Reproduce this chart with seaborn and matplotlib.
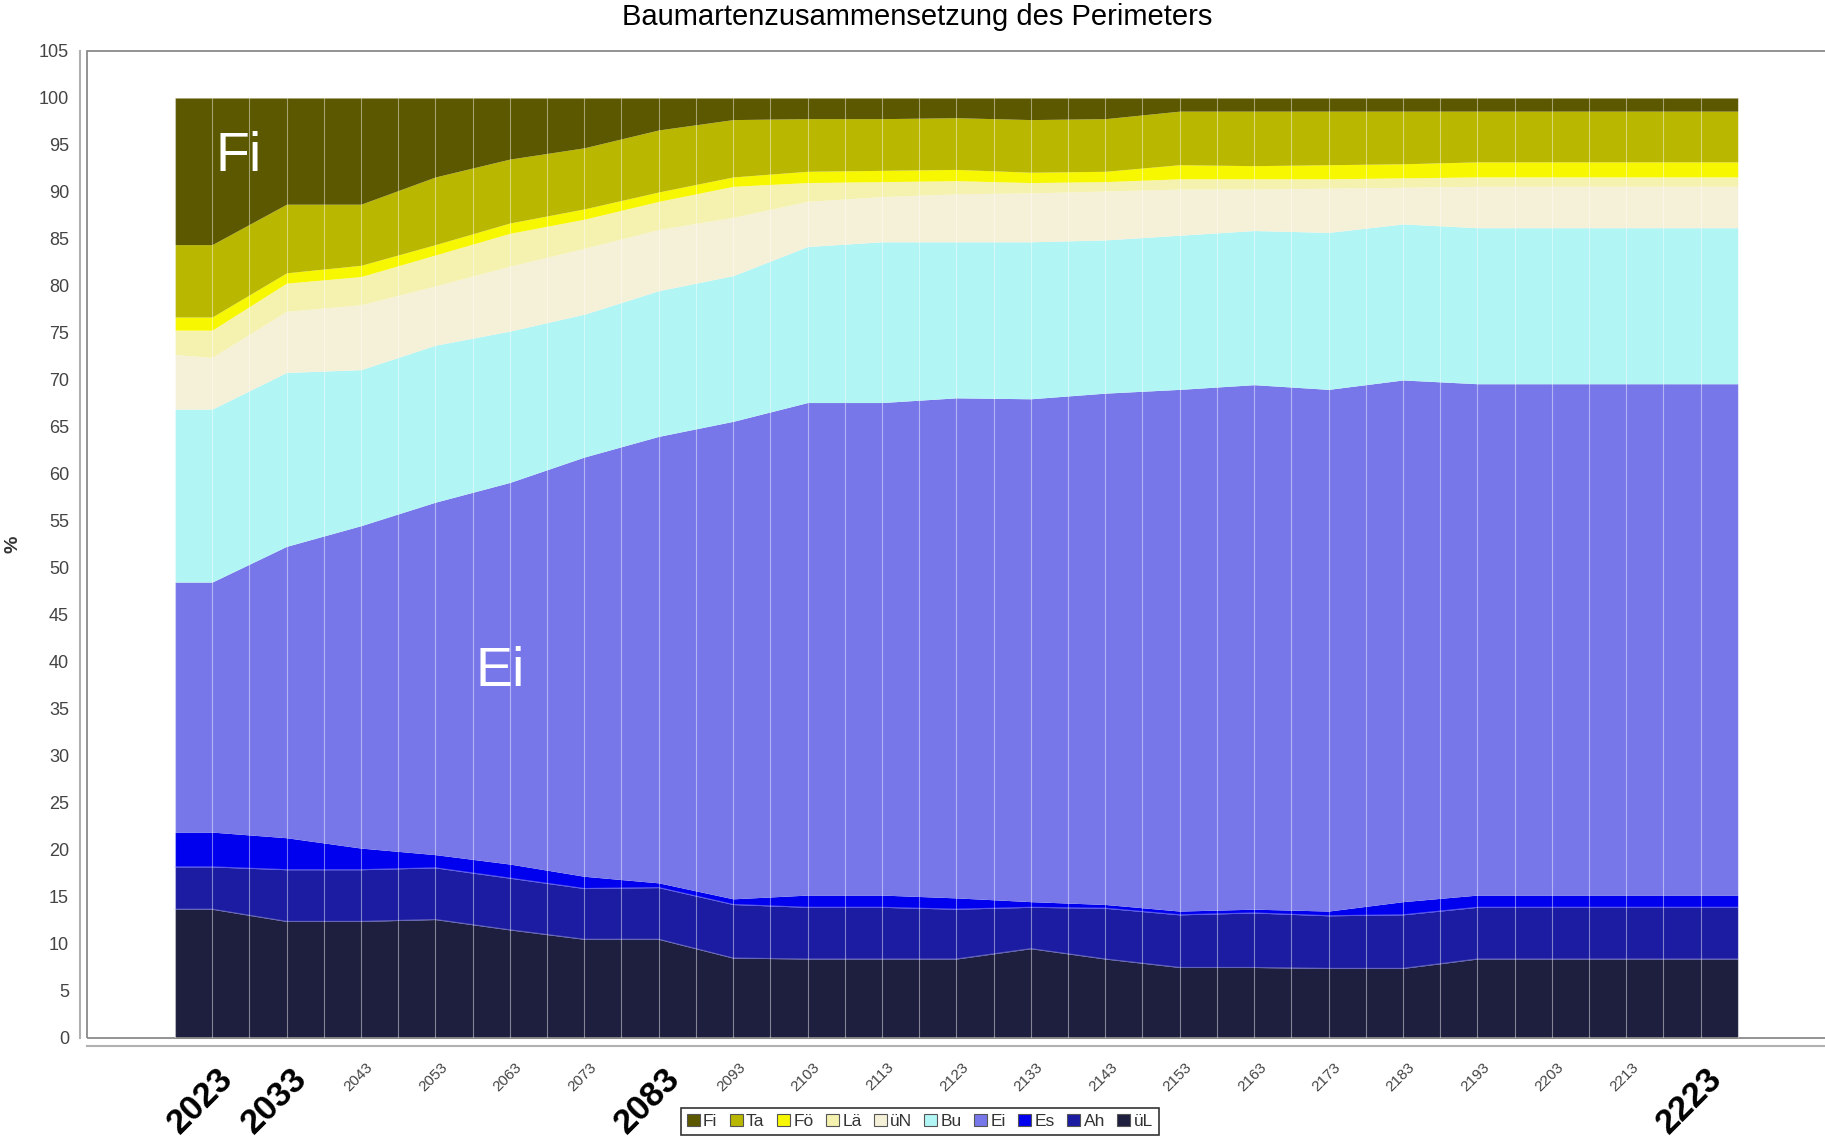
import numpy as np
import pandas as pd
import matplotlib
matplotlib.use("Agg")
import matplotlib.pyplot as plt
import matplotlib.transforms as mtransforms
from matplotlib.patches import Patch, Rectangle
import seaborn as sns

# Data (percent share per tree species)
years = [2018, 2023, 2033, 2043, 2053, 2063, 2073, 2083, 2093, 2103, 2113, 2123,
         2133, 2143, 2153, 2163, 2173, 2183, 2193, 2203, 2213, 2223, 2228]

uel = [13.7, 13.7, 12.4, 12.4, 12.6, 11.5, 10.5, 10.5, 8.5, 8.4, 8.4, 8.4,
       9.5, 8.4, 7.5, 7.5, 7.4, 7.4, 8.4, 8.4, 8.4, 8.4, 8.4]
ah = [4.5, 4.5, 5.5, 5.5, 5.5, 5.5, 5.4, 5.5, 5.7, 5.5, 5.5, 5.3,
      4.4, 5.4, 5.6, 5.8, 5.6, 5.7, 5.5, 5.5, 5.5, 5.5, 5.5]
es = [3.7, 3.7, 3.4, 2.3, 1.4, 1.5, 1.3, 0.5, 0.6, 1.3, 1.3, 1.2,
      0.6, 0.4, 0.4, 0.4, 0.5, 1.4, 1.3, 1.3, 1.3, 1.3, 1.3]
ei = [26.6, 26.6, 31.0, 34.3, 37.5, 40.6, 44.6, 47.5, 50.8, 52.4, 52.4, 53.2,
      53.5, 54.4, 55.5, 55.8, 55.5, 55.5, 54.4, 54.4, 54.4, 54.4, 54.4]
bu = [18.4, 18.4, 18.5, 16.6, 16.7, 16.1, 15.2, 15.5, 15.5, 16.6, 17.1, 16.6,
      16.7, 16.3, 16.4, 16.4, 16.7, 16.6, 16.6, 16.6, 16.6, 16.6, 16.6]
uen = [5.8, 5.5, 6.5, 6.9, 6.3, 6.9, 7.0, 6.5, 6.2, 4.8, 4.8, 5.1,
       5.2, 5.2, 4.9, 4.4, 4.7, 3.9, 4.4, 4.4, 4.4, 4.4, 4.4]
lae = [2.6, 2.9, 3.0, 3.0, 3.3, 3.5, 3.1, 3.0, 3.3, 2.0, 1.6, 1.4,
       1.1, 1.0, 1.1, 1.1, 1.0, 1.0, 1.0, 1.0, 1.0, 1.0, 1.0]
foe = [1.4, 1.4, 1.1, 1.2, 1.1, 1.1, 1.1, 1.0, 1.0, 1.2, 1.2, 1.2,
       1.1, 1.1, 1.5, 1.4, 1.5, 1.5, 1.6, 1.6, 1.6, 1.6, 1.6]
ta = [7.7, 7.7, 7.3, 6.5, 7.2, 6.8, 6.5, 6.6, 6.1, 5.6, 5.5, 5.5,
      5.6, 5.6, 5.7, 5.8, 5.7, 5.6, 5.4, 5.4, 5.4, 5.4, 5.4]
fi = [15.6, 15.6, 11.3, 11.3, 8.4, 6.5, 5.3, 3.4, 2.3, 2.2, 2.2, 2.1,
      2.3, 2.2, 1.4, 1.4, 1.4, 1.4, 1.4, 1.4, 1.4, 1.4, 1.4]

species = ["üL", "Ah", "Es", "Ei", "Bu", "üN", "Lä", "Fö", "Ta", "Fi"]
colors = ["#1e1e3e", "#1c1ca2", "#0000ee", "#7777ea", "#b2f5f5",
          "#f5f0d8", "#f5f2b0", "#f7f700", "#bab700", "#5c5800"]

tick_years = [2023, 2033, 2043, 2053, 2063, 2073, 2083, 2093, 2103, 2113, 2123,
              2133, 2143, 2153, 2163, 2173, 2183, 2193, 2203, 2213, 2223]
big_years = [2023, 2033, 2083, 2223]

df = pd.DataFrame({"üL": uel, "Ah": ah, "Es": es, "Ei": ei, "Bu": bu, "üN": uen,
                   "Lä": lae, "Fö": foe, "Ta": ta, "Fi": fi}, index=years)

sns.set_style("white")
plt.rcParams["font.family"] = ["Liberation Sans", "DejaVu Sans"]

fig = plt.figure(figsize=(18.25, 11.43), dpi=100)
ax = fig.add_axes([0.0477, 0.0919, 0.9523, 0.8635])

ax.stackplot(df.index, [df[s] for s in species], colors=colors, linewidth=0)

# faint boundary lines of the lower layers
cum = df[species].cumsum(axis=1)
ax.plot(df.index, cum["üL"], color="#8a8ac8", lw=0.8, alpha=0.6)
ax.plot(df.index, cum["Ah"], color="#8a8ae8", lw=0.8, alpha=0.6)

# white vertical grid lines every 5 years
ax.vlines(np.arange(years[0], years[-1] + 1, 5), 0, 100, colors="white",
          lw=0.8, alpha=0.45)

ax.set_xlim(2006.2, 2239.7)
ax.set_ylim(0, 105)

# frame / axis lines
for side in ["top", "right"]:
    ax.spines[side].set_visible(False)
ax.spines["bottom"].set_position(("outward", 6))
ax.spines["left"].set_position(("outward", 5))
for side in ["bottom", "left"]:
    ax.spines[side].set_color("#b0b0b0")
    ax.spines[side].set_linewidth(1.5)
ax.add_patch(Rectangle((0, 0), 1.2, 1, transform=ax.transAxes, fill=False,
                       ec="#8a8a8a", lw=1.3, clip_on=False))

ax.set_yticks(np.arange(0, 106, 5))
ax.tick_params(axis="y", labelsize=13, labelcolor="#444444", color="#999999",
               length=4, pad=4)
ax.tick_params(axis="x", color="#999999", length=4, pad=3)

ax.set_xticks(tick_years)
ax.set_xticklabels([str(y) for y in tick_years])
for y, lab in zip(tick_years, ax.get_xticklabels()):
    lab.set_rotation(45)
    lab.set_rotation_mode("anchor")
    lab.set_ha("right")
    lab.set_va("top")
    if y in big_years:
        lab.set_fontsize(25)
        lab.set_fontweight("bold")
        lab.set_color("black")
        dx, dy = 4, -6
    else:
        lab.set_fontsize(11)
        lab.set_color("#444444")
        dx, dy = 5, -4
    lab.set_transform(lab.get_transform() +
                      mtransforms.ScaledTranslation(dx / 100, dy / 100, fig.dpi_scale_trans))

ax.set_ylabel("%", fontsize=14, fontweight="bold", color="#333333")
ax.yaxis.set_label_coords(-0.038, 0.5)

# species labels in the areas
ax.text(2026.6, 93.7, "Fi", color="white", fontsize=40, ha="center", va="center")
ax.text(2061.7, 38.9, "Ei", color="white", fontsize=40, ha="center", va="center")

fig.text(0.5025, 0.985, "Baumartenzusammensetzung des Perimeters",
         ha="center", va="center", fontsize=21, color="black")

# legend (Fi first, as in the original)
handles = [Patch(facecolor=c, edgecolor="#555555", lw=0.8, label=s)
           for s, c in zip(species[::-1], colors[::-1])]
leg = fig.legend(handles=handles, loc="center", ncol=10,
                 bbox_to_anchor=(0.504, 0.019), frameon=True, fancybox=False,
                 fontsize=12.5, handlelength=0.75, handleheight=0.75,
                 handletextpad=0.2, columnspacing=0.7, borderpad=0.35,
                 labelcolor="#333333")
leg.get_frame().set_edgecolor("black")
leg.get_frame().set_linewidth(1.2)

fig.savefig("out.png", dpi=100)
